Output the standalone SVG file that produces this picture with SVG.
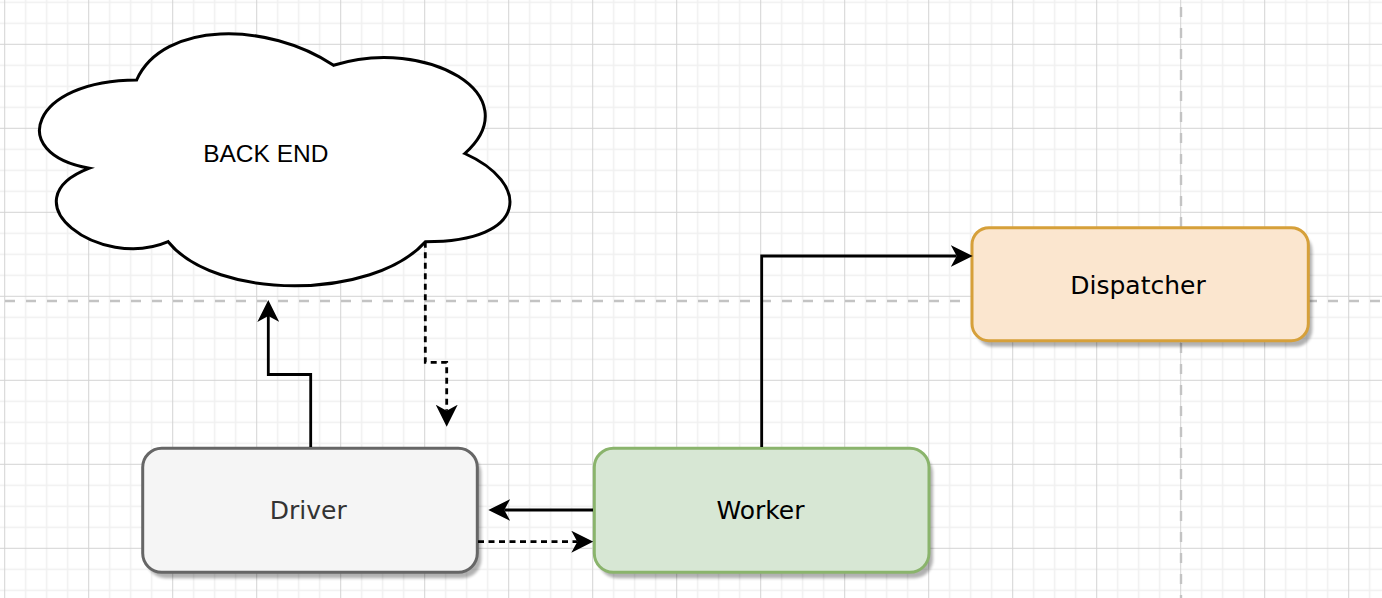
<svg xmlns="http://www.w3.org/2000/svg" width="1382" height="598" viewBox="0 0 1382 598">
<style>
.minor{stroke:#f0f0f0;stroke-width:1.5}
.major{stroke:#d3d3d3;stroke-width:1}
.pb{stroke:#c3c3c3;stroke-width:2.4;stroke-dasharray:10 11;fill:none}
.node{stroke-width:3}
.edge{fill:none;stroke:#000;stroke-width:2.8}
.dash{stroke-dasharray:6 4.5}
.lbl{font-family:"DejaVu Sans",Verdana,sans-serif;font-size:25px;text-anchor:middle}
.cl{font-family:"Liberation Sans",Arial,sans-serif;font-size:24.5px;text-anchor:middle;fill:#000}
</style>
<defs>
<pattern id="grid" x="4.2" y="43.8" width="84" height="84" patternUnits="userSpaceOnUse">
<path class="minor" d="M21.5,0V84M42.5,0V84M63.5,0V84M0,21.5H84M0,42.5H84M0,63.5H84"/>
<path class="major" d="M0.5,0V84M0,0.5H84"/>
</pattern>
<marker id="arr" viewBox="0 0 22 22" markerUnits="userSpaceOnUse" markerWidth="22" markerHeight="22" refX="6" refY="11" orient="auto">
<path d="M0,0 L22,11 L0,22 L6,11 Z" fill="#000" stroke="none"/>
</marker>
<filter id="sh" x="-10%" y="-10%" width="130%" height="140%">
<feGaussianBlur stdDeviation="1.5"/>
</filter>
</defs>
<rect width="1382" height="598" fill="#fff"/>
<rect width="1382" height="598" fill="url(#grid)"/>
<path class="pb" d="M0,301H1382" stroke-dashoffset="-5"/>
<path class="pb" d="M1181,0V598" stroke-dashoffset="-7"/>

<g id="cloud">
<path transform="translate(5.4,6.5) scale(525,294)" vector-effect="non-scaling-stroke" fill="#fff" stroke="#000" stroke-width="3" d="M0.25,0.25 C0.05,0.25 0,0.5 0.16,0.55 C0,0.66 0.18,0.9 0.31,0.8 C0.4,1 0.7,1 0.8,0.8 C1,0.8 1,0.6 0.875,0.5 C1,0.3 0.8,0.1 0.625,0.2 C0.5,0.05 0.3,0.05 0.25,0.25 Z"/>
<text class="cl" x="265.8" y="161.7">BACK END</text>
</g>

<g id="driver">
<rect x="146.7" y="454.3" width="334.6" height="124" rx="19" fill="#000" opacity="0.3" filter="url(#sh)"/>
<rect class="node" x="142.7" y="448.3" width="334.6" height="124" rx="19" fill="#f5f5f5" stroke="#666666"/>
<text class="lbl" x="308.3" y="519" fill="#333333">Driver</text>
</g>

<g id="worker">
<rect x="598.3" y="454.3" width="334.7" height="124" rx="19" fill="#000" opacity="0.3" filter="url(#sh)"/>
<rect class="node" x="594.3" y="448.3" width="334.7" height="124" rx="19" fill="#d7e7d4" stroke="#8ab46c"/>
<text class="lbl" x="760.5" y="519" fill="#000">Worker</text>
</g>

<g id="dispatcher">
<rect x="976" y="233.7" width="336.3" height="113" rx="17" fill="#000" opacity="0.3" filter="url(#sh)"/>
<rect class="node" x="972" y="227.7" width="336.3" height="113" rx="17" fill="#fbe6cf" stroke="#d6a03a"/>
<text class="lbl" x="1138" y="294" fill="#000">Dispatcher</text>
</g>

<g id="connectors">
<path class="edge" d="M310.7,447V374.5H268.3V316" marker-end="url(#arr)"/>
<path class="edge dash" d="M425.3,241.7V362.3H446.7V410.7" marker-end="url(#arr)"/>
<path class="edge" d="M593,510H504.3" marker-end="url(#arr)"/>
<path class="edge dash" d="M478,541.7H577.3" marker-end="url(#arr)"/>
<path class="edge" d="M761.7,447V256H956.7" marker-end="url(#arr)"/>
</g>
</svg>
